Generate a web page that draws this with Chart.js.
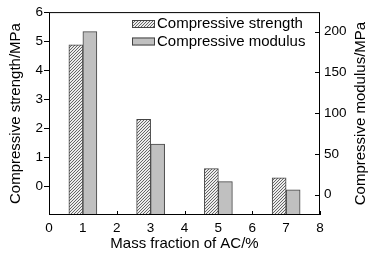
<!DOCTYPE html>
<html><head><meta charset="utf-8">
<script src="https://cdn.jsdelivr.net/npm/chart.js@4/dist/chart.umd.min.js"></script>
<style>html,body{margin:0;padding:0;background:#fff}#wrap{width:379px;height:260px}</style>
</head><body><div id="wrap"><canvas id="c" width="379" height="260"></canvas></div>
<script>
const massFractions = [1, 3, 5, 7];
const compressiveStrength = [4.87, 2.3, 0.6, 0.28];
const compressiveModulus = [200, 62, 16, 6];
const xTicks = [0, 1, 2, 3, 4, 5, 6, 7, 8];
const leftTicks = [0, 1, 2, 3, 4, 5, 6];
const rightTicks = [0, 50, 100, 150, 200];
const seriesLabels = ['Compressive strength', 'Compressive modulus'];
const xTitle = 'Mass fraction of AC/%';
const leftTitle = 'Compressive strength/MPa';
const rightTitle = 'Compressive modulus/MPa';

const LEFT_MIN = -1, LEFT_MAX = 6;
const RIGHT_MIN = -25, RIGHT_MAX = 224;
const FONT = "'Liberation Sans', Arial, sans-serif";

const canvas = document.getElementById('c');
const ctx = canvas.getContext('2d');

function makeHatch() {
  const t = document.createElement('canvas');
  t.width = 3; t.height = 3;
  const g = t.getContext('2d');
  g.fillStyle = '#ececec'; g.fillRect(0, 0, 3, 3);
  g.fillStyle = '#666666';
  for (let i = 0; i < 3; i++) g.fillRect(2 - i, i, 1, 1);
  return ctx.createPattern(t, 'repeat');
}
const hatch = makeHatch();

Chart.defaults.font.family = FONT;
Chart.defaults.color = '#000';

const framePlugin = {
  id: 'frame',
  beforeDatasetsDraw(chart) {
    const c = chart.ctx, a = chart.chartArea;
    const xs = chart.scales.x, ys = chart.scales.y2;
    c.save();
    c.strokeStyle = '#000'; c.lineWidth = 1;
    c.beginPath();
    xs.ticks.forEach(t => {
      const px = Math.round(xs.getPixelForValue(t.value)) + 0.5;
      c.moveTo(px, a.bottom); c.lineTo(px, a.bottom - 4);
    });
    ys.ticks.forEach(t => {
      const py = Math.round(ys.getPixelForValue(t.value)) + 0.5;
      c.moveTo(a.right, py); c.lineTo(a.right - 5, py);
    });
    c.stroke();
    c.restore();
  },
  afterDatasetsDraw(chart) {
    const c = chart.ctx, a = chart.chartArea;
    c.save();
    c.strokeStyle = '#000'; c.lineWidth = 1;
    c.strokeRect(a.left + 0.5, a.top + 0.5, a.right - a.left - 1, a.bottom - a.top - 1);
    // legend
    c.font = '15px ' + FONT;
    c.textBaseline = 'middle';
    c.textAlign = 'left';
    const rows = [24, 41.5];
    chart.data.datasets.forEach((ds, i) => {
      const y = rows[i];
      c.fillStyle = ds.backgroundColor;
      c.fillRect(132, y - 4, 23, 8);
      c.strokeStyle = '#444';
      c.strokeRect(132.5, y - 3.5, 22, 7);
      c.fillStyle = '#000';
      c.fillText(ds.label, 157, y);
    });
    // right axis title
    c.translate(361, (a.top + a.bottom) / 2);
    c.rotate(-Math.PI / 2);
    c.textAlign = 'center';
    c.fillText(rightTitle, 0, 0);
    c.restore();
  }
};

new Chart(ctx, {
  type: 'bar',
  data: {
    datasets: [
      {
        label: seriesLabels[0],
        data: massFractions.map((x, i) => ({ x, y: compressiveStrength[i] })),
        yAxisID: 'y',
        base: LEFT_MIN,
        backgroundColor: hatch,
        borderColor: '#444',
        borderWidth: 1,
        borderSkipped: false,
        barThickness: 14
      },
      {
        label: seriesLabels[1],
        data: massFractions.map((x, i) => ({ x, y: compressiveModulus[i] })),
        yAxisID: 'y2',
        base: RIGHT_MIN,
        backgroundColor: '#c0c0c0',
        borderColor: '#444',
        borderWidth: 1,
        borderSkipped: false,
        barThickness: 14
      }
    ]
  },
  options: {
    responsive: false,
    maintainAspectRatio: false,
    animation: false,
    layout: { padding: { top: 10, left: 0, right: 0, bottom: 0 } },
    plugins: { legend: { display: false }, tooltip: { enabled: false } },
    scales: {
      x: {
        type: 'linear', min: 0, max: 8, offset: false,
        afterBuildTicks: s => { s.ticks = xTicks.map(v => ({ value: v })); },
        ticks: { font: { size: 13.5 }, padding: 5, maxRotation: 0, autoSkip: false },
        grid: { display: true, drawOnChartArea: false, drawTicks: false },
        border: { display: false },
        title: { display: true, text: xTitle, font: { size: 15 }, padding: { top: 0, bottom: 7 } },
        afterFit: s => { s.height = 45; }
      },
      y: {
        type: 'linear', position: 'left', min: LEFT_MIN, max: LEFT_MAX,
        afterBuildTicks: s => { s.ticks = leftTicks.map(v => ({ value: v })); },
        ticks: { font: { size: 13.5 }, padding: 1 },
        grid: { display: true, drawOnChartArea: false, drawTicks: true, tickLength: 5, color: '#000' },
        border: { display: false },
        title: { display: true, text: leftTitle, font: { size: 15 }, padding: { top: 7, bottom: 0 } },
        afterFit: s => { s.width = 49; }
      },
      y2: {
        type: 'linear', position: 'right', min: RIGHT_MIN, max: RIGHT_MAX,
        afterBuildTicks: s => { s.ticks = rightTicks.map(v => ({ value: v })); },
        ticks: { font: { size: 13.5 }, padding: 4 },
        grid: { display: true, drawOnChartArea: false, drawTicks: false },
        border: { display: false },
        title: { display: false },
        afterFit: s => { s.width = 59; }
      }
    }
  },
  plugins: [framePlugin]
});
</script></body></html>
